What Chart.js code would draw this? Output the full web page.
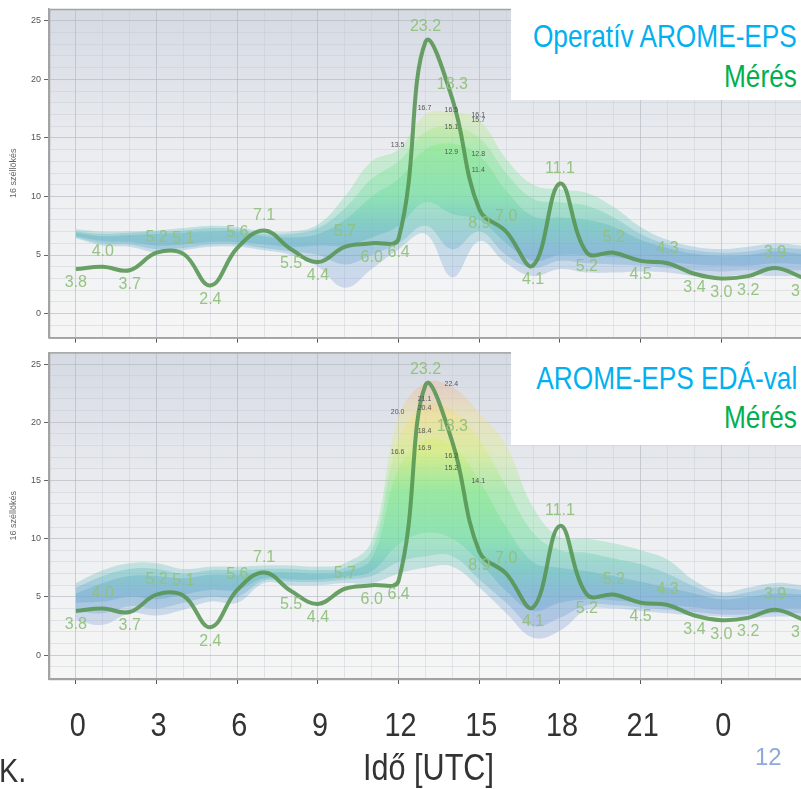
<!DOCTYPE html>
<html><head><meta charset="utf-8">
<script src="https://cdn.jsdelivr.net/npm/chart.js@4.4.1/dist/chart.umd.min.js"></script>
<style>
html,body{margin:0;padding:0;background:#fff;width:801px;height:789px;overflow:hidden;position:relative}
canvas{position:absolute;left:0}
#c1{top:0}
#c2{top:344px}
.leg{position:absolute;left:511px;width:290px;background:#fff;box-sizing:border-box}
.leg div{position:absolute;right:4px;white-space:nowrap;font-family:'Liberation Sans',sans-serif;font-size:32px;line-height:40px;transform:scaleX(0.82);transform-origin:right center}
.blue{color:#00B0F0}.green{color:#00B050}
.slide{position:absolute;font-family:'Liberation Sans',sans-serif;color:#333;white-space:nowrap;transform-origin:left center}
</style></head><body>
<canvas id="c1" width="803" height="346"></canvas>
<canvas id="c2" width="803" height="445"></canvas>
<div class="leg" style="top:8px;height:92px"><div class="blue" style="top:8px">Operatív AROME-EPS</div><div class="green" style="top:48px">Mérés</div></div>
<div class="leg" style="top:352px;height:93px"><div class="blue" style="top:6px">AROME-EPS EDÁ-val</div><div class="green" style="top:45px">Mérés</div></div>
<div class="slide" style="left:-1px;top:750px;font-size:34px;line-height:40px;transform:scaleX(0.85)">K.</div>
<div class="slide" style="left:755px;top:743px;font-size:24px;line-height:28px;color:#8EA9DB">12</div>
<script>
// ---------------- DATA ----------------
const hours = [0,1,2,3,4,5,6,7,8,9,10,11,12,13,14,15,16,17,18,19,20,21,22,23,24,25,26,27];
const measured = [3.8,4.0,3.7,5.2,5.1,2.4,5.6,7.1,5.5,4.4,5.7,6.0,6.4,23.2,18.3,8.9,7.0,4.1,11.1,5.2,5.2,4.5,4.3,3.4,3.0,3.2,3.9,3.1];

// Operatív AROME-EPS plume (envelope / mid / core)
const opOuterHi = [7.2,7.0,7.0,7.1,7.3,7.5,7.4,7.0,7.0,7.6,10.0,13.0,14.0,17.0,17.2,16.5,13.2,11.0,10.6,10.3,9.1,7.4,6.3,5.7,5.5,5.7,6.0,5.8];
const opOuterLo = [6.4,5.8,5.7,5.2,5.4,5.7,5.7,5.4,5.0,4.0,2.2,3.8,5.5,6.8,3.1,6.2,4.3,3.2,3.8,3.5,3.5,3.6,3.5,3.2,3.2,3.3,3.2,3.2];
const opMidHi = [7.0,6.8,6.9,7.0,7.1,7.3,7.2,6.8,6.8,7.3,9.0,11.5,13.0,15.5,16.0,15.0,12.0,9.8,9.5,9.2,8.2,6.8,5.9,5.4,5.2,5.3,5.6,5.5];
const opMidLo = [6.5,6.0,5.9,5.5,5.6,5.9,5.9,5.6,5.3,5.0,4.2,5.0,6.0,7.5,5.5,7.0,5.0,3.9,4.5,4.3,4.2,4.1,3.9,3.7,3.6,3.7,3.7,3.7];
const opInHi = [6.9,6.6,6.7,6.8,6.9,7.0,7.0,6.6,6.5,6.8,8.0,10.0,11.5,14.0,14.5,13.5,10.5,8.3,8.2,8.0,7.4,6.3,5.6,5.1,4.9,5.0,5.3,5.1];
const opInLo = [6.6,6.2,6.1,5.8,5.9,6.1,6.1,5.9,5.7,5.8,5.8,6.5,7.5,9.5,8.5,8.0,6.0,4.5,5.0,5.0,4.8,4.6,4.4,4.2,4.1,4.1,4.3,4.2];
const opMemberHours = [12,13,14,14,14,15,15,15,15];
const opMemberValues = [13.5,16.7,16.5,15.1,12.9,16.1,15.7,12.8,11.4];

// AROME-EPS EDÁ-val plume
const edaOuterHi = [6.2,7.3,7.9,7.9,7.4,7.6,7.6,7.7,7.7,7.6,7.9,9.8,20.5,23.4,23.0,20.8,18.0,12.7,10.1,10.0,9.6,9.0,8.2,6.4,5.4,5.8,6.2,6.0];
const edaOuterLo = [3.0,2.6,3.6,3.4,3.9,4.6,4.5,6.2,6.0,6.0,6.2,6.2,7.0,7.5,7.6,5.8,3.6,1.5,2.1,3.9,4.0,3.8,3.6,3.4,3.3,3.2,3.3,3.3];
const edaMidHi = [5.8,6.8,7.4,7.4,7.0,7.3,7.3,7.4,7.4,7.3,7.5,9.0,18.5,21.5,21.0,18.5,14.5,10.5,9.0,8.8,8.3,7.8,7.0,5.9,5.1,5.4,5.8,5.6];
const edaMidLo = [3.8,3.6,4.2,4.0,4.5,5.0,5.0,6.4,6.3,6.3,6.5,6.8,8.0,8.5,8.5,6.5,4.5,2.5,3.2,4.3,4.3,4.1,3.9,3.7,3.5,3.5,3.6,3.6];
const edaInHi = [5.3,6.2,6.8,6.8,6.6,6.9,6.9,7.1,7.1,7.0,7.2,8.3,16.0,18.5,18.0,15.0,11.0,8.0,7.5,7.2,6.8,6.3,5.8,5.3,4.8,5.0,5.3,5.2];
const edaInLo = [4.5,4.6,5.0,4.8,5.2,5.6,5.6,6.6,6.5,6.5,6.7,7.2,9.5,10.5,10.0,8.0,5.5,3.8,4.5,4.8,4.7,4.5,4.3,4.1,3.9,3.9,4.0,4.0];
const edaMemberHours = [12,12,13,13,13,13,14,14,14,15];
const edaMemberValues = [20.0,16.6,21.1,20.4,18.4,16.9,22.4,16.2,15.2,14.1];

const xTickHours = [0,3,6,9,12,15,18,21,24];
const xTickLabels = ['0','3','6','9','12','15','18','21','0'];
const yTickValues = [0,5,10,15,20,25];
const yTitle = '16 széllökés';
const xTitle = 'Idő [UTC]';

// ---------------- STYLE ----------------
const SANS = "'Liberation Sans',sans-serif";
const colorStops = [[0,'120,150,215'],[3,'125,160,215'],[5.5,'105,170,205'],[7.5,'95,190,185'],[10,'110,220,160'],[14,'125,230,135'],[17.5,'210,238,110'],[20.5,'245,225,110'],[23.5,'245,165,130']];

const pts = arr => hours.map((h,i)=>({x:h,y:arr[i]}));

function plumeFill(alpha){
  return (context)=>{
    const chart = context.chart;
    const {ctx, chartArea, scales} = chart;
    if(!chartArea) return 'rgba(0,0,0,0)';
    const y = scales.y;
    const g = ctx.createLinearGradient(0, y.getPixelForValue(0), 0, y.getPixelForValue(24));
    colorStops.forEach(([v,c])=>g.addColorStop(v/24, `rgba(${c},${alpha})`));
    return g;
  };
}

const bandBase = {borderColor:'rgba(0,0,0,0)', borderWidth:0, pointRadius:0, tension:0.4};

const bgPlugin = {
  id:'bg',
  beforeDraw(chart){
    const {ctx, chartArea:a} = chart;
    const g = ctx.createLinearGradient(0,a.top,0,a.bottom);
    g.addColorStop(0,'#d5dae3');
    g.addColorStop(0.45,'#ebedf0');
    g.addColorStop(1,'#f6f6f6');
    ctx.save(); ctx.fillStyle = g; ctx.fillRect(a.left,a.top,a.right-a.left,a.bottom-a.top); ctx.restore();
  },
  afterDraw(chart){
    const {ctx, chartArea:a} = chart;
    ctx.save(); ctx.strokeStyle='#a3a3a3'; ctx.lineWidth=1.5;
    ctx.strokeRect(a.left+0.5,a.top+0.5,a.right-a.left,a.bottom-a.top);
    ctx.restore();
  }
};

const labelPlugin = {
  id:'labels',
  afterDatasetsDraw(chart, args, opts){
    const {ctx, scales:{x,y}} = chart;
    ctx.save();
    ctx.font = "16px " + SANS;
    ctx.textAlign='center'; ctx.textBaseline='middle';
    ctx.fillStyle='rgba(145,192,125,0.95)';
    measured.forEach((v,i)=>{
      const prev = i>0 ? measured[i-1] : measured[i+1];
      const next = i<measured.length-1 ? measured[i+1] : measured[i-1];
      const above = v > (prev+next)/2;
      const px = x.getPixelForValue(hours[i]);
      const py = y.getPixelForValue(v) + (above ? -15 : 14);
      ctx.fillText(v.toFixed(1), px, py);
    });
    ctx.font = "7px " + SANS;
    ctx.fillStyle='#555';
    opts.mh.forEach((h,i)=>{
      ctx.fillText(opts.mv[i].toFixed(1), x.getPixelForValue(h)-1, y.getPixelForValue(opts.mv[i])-10);
    });
    ctx.restore();
  },
  afterDraw(chart, args, opts){
    if(!opts.bottomAxis) return;
    const {ctx, chartArea:a, scales:{x}} = chart;
    ctx.save();
    ctx.fillStyle='#333'; ctx.textAlign='center'; ctx.textBaseline='middle';
    ctx.font = "34px " + SANS;
    xTickHours.forEach((h,i)=>{
      ctx.save();
      ctx.translate(x.getPixelForValue(h)+2, a.bottom+48);
      ctx.scale(0.85,1);
      ctx.fillText(xTickLabels[i],0,0);
      ctx.restore();
    });
    ctx.font = "36px " + SANS;
    ctx.translate((a.left+a.right)/2+3, a.bottom+91);
    ctx.scale(0.85,1);
    ctx.fillText(xTitle,0,0);
    ctx.restore();
  }
};

function makeChart(id, bands, mh, mv, bottom){
  const canvasH = bottom ? 445 : 346;
  const areaTop = bottom ? 8 : 9;
  const areaBottom = bottom ? 335 : 338;
  return new Chart(document.getElementById(id), {
    type:'line',
    data:{datasets:[
      {data:pts(measured), borderColor:'rgba(85,148,82,0.88)', borderWidth:4, pointRadius:0, tension:0.4, fill:false},
      {...bandBase, data:pts(bands[0]), fill:false},
      {...bandBase, data:pts(bands[1]), fill:'-1', backgroundColor:plumeFill(0.32)},
      {...bandBase, data:pts(bands[2]), fill:false},
      {...bandBase, data:pts(bands[3]), fill:'-1', backgroundColor:plumeFill(0.35)},
      {...bandBase, data:pts(bands[4]), fill:false},
      {...bandBase, data:pts(bands[5]), fill:'-1', backgroundColor:plumeFill(0.42)}
    ]},
    options:{
      responsive:false, animation:false, devicePixelRatio:1,
      layout:{padding:{top:areaTop, right:1, left:0, bottom:0}},
      plugins:{legend:{display:false}, tooltip:{enabled:false}, labels:{mh, mv, bottomAxis:bottom}},
      scales:{
        x:{type:'linear', min:-1, max:27,
          afterFit(s){ s.height = canvasH - areaBottom; s.paddingLeft = 0; s.paddingRight = 0; },
          afterBuildTicks(s){ const t=[]; for(let v=-1; v<=27; v++) t.push({value:v}); s.ticks=t; },
          ticks:{autoSkip:false, maxRotation:0, display:false},
          grid:{drawOnChartArea:true, tickLength:5,
            color:c=> (c.tick && c.tick.value%3===0) ? 'rgba(175,180,190,0.6)' : 'rgba(195,200,210,0.4)',
            tickColor:c=> (c.tick && c.tick.value>=0 && c.tick.value%3===0) ? '#555' : 'rgba(0,0,0,0)'},
          border:{display:true, color:'#a3a3a3', width:1.5},
          title:{display:false}
        },
        y:{type:'linear', min:-2.05, max:26,
          afterFit(s){ s.width = 49; },
          afterBuildTicks(s){ const t=[]; for(let v=-2; v<=26; v++) t.push({value:v}); s.ticks=t; },
          ticks:{autoSkip:false, padding:3, color:'#555', font:{family:SANS, size:9},
            callback:(v)=> yTickValues.includes(v) ? String(v) : ''},
          grid:{tickLength:5,
            color:c=> (c.tick && c.tick.value%5===0) ? 'rgba(175,180,190,0.6)' : 'rgba(195,200,210,0.4)',
            tickColor:c=> (c.tick && yTickValues.includes(c.tick.value)) ? '#666' : 'rgba(0,0,0,0)'},
          border:{display:true, color:'#a3a3a3', width:1.5},
          title:{display:true, text:yTitle, color:'#666', font:{family:SANS, size:9}, padding:{top:8,bottom:0}}
        }
      }
    },
    plugins:[bgPlugin, labelPlugin]
  });
}

makeChart('c1', [opOuterHi,opOuterLo,opMidHi,opMidLo,opInHi,opInLo], opMemberHours, opMemberValues, false);
makeChart('c2', [edaOuterHi,edaOuterLo,edaMidHi,edaMidLo,edaInHi,edaInLo], edaMemberHours, edaMemberValues, true);
</script>
</body></html>
